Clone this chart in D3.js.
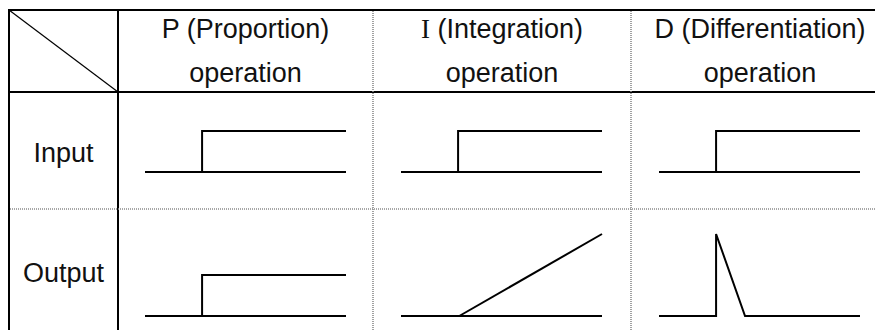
<!DOCTYPE html>
<html>
<head>
<meta charset="utf-8">
<script src="https://cdn.jsdelivr.net/npm/d3@7"></script>
<style>
  html, body { margin: 0; padding: 0; background: #fff; }
  svg { display: block; }
  text { font-family: "Liberation Sans", Arial, sans-serif; fill: #111; }
</style>
</head>
<body>
<svg id="chart" width="875" height="330"></svg>
<script>
// ---- data ----
const operations = ["P", "I", "D"];
const operationNames = ["(Proportion)", "(Integration)", "(Differentiation)"];
const operationSuffix = "operation";
const rowLabels = ["Input", "Output"];

// signal shapes, in (time 0..1, level in units) — each a list of polylines
const inputStep = [
  [[0, 0], [1, 0]],
  [[0.284, 0], [0.284, 1], [1, 1]]
];
const outputP = [
  [[0, 0], [1, 0]],
  [[0.284, 0], [0.284, 1], [1, 1]]
];
const outputI = [
  [[0, 0], [1, 0]],
  [[0.29, 0], [1, 2]]
];
const outputD = [
  [[0, 0], [0.284, 0], [0.284, 2], [0.428, 0], [1, 0]]
];
const signals = [
  [inputStep, inputStep, inputStep],
  [outputP, outputI, outputD]
];

// ---- layout ----
const svg = d3.select("#chart");
const colEdges = [9, 118, 373, 631, 889];
const rowEdges = [10, 92, 209, 331];

// table borders
const solid = svg.append("g").attr("stroke", "#000").attr("stroke-width", 2).attr("fill", "none");
solid.append("line").attr("x1", colEdges[0]).attr("x2", 875).attr("y1", rowEdges[0]).attr("y2", rowEdges[0]);
solid.append("line").attr("x1", colEdges[0]).attr("x2", 875).attr("y1", rowEdges[1]).attr("y2", rowEdges[1]);
solid.append("line").attr("x1", colEdges[0]).attr("x2", colEdges[0]).attr("y1", rowEdges[0] - 1).attr("y2", 331);
solid.append("line").attr("x1", colEdges[1]).attr("x2", colEdges[1]).attr("y1", rowEdges[0] - 1).attr("y2", 331);

// diagonal in corner
svg.append("line").attr("x1", colEdges[0]).attr("y1", rowEdges[0])
  .attr("x2", colEdges[1]).attr("y2", rowEdges[1])
  .attr("stroke", "#000").attr("stroke-width", 1.2);

// dotted inner lines
const dotted = svg.append("g").attr("stroke", "#8a8a8a").attr("stroke-width", 1.6)
  .attr("stroke-dasharray", "1,1").attr("fill", "none");
[colEdges[2], colEdges[3]].forEach(x => {
  dotted.append("line").attr("x1", x).attr("x2", x).attr("y1", rowEdges[0] + 1).attr("y2", 331);
});
dotted.append("line").attr("x1", colEdges[0] + 1).attr("x2", 875).attr("y1", rowEdges[2]).attr("y2", rowEdges[2]);

// header text
const fs = 27;
operations.forEach((op, i) => {
  const cx = (colEdges[i + 1] + colEdges[i + 2]) / 2;
  const t = svg.append("text").attr("x", cx).attr("y", 38)
    .attr("text-anchor", "middle").attr("font-size", fs);
  if (op === "I") {
    t.append("tspan").style("font-family", "'Liberation Serif', serif").text(op);
  } else {
    t.append("tspan").text(op);
  }
  t.append("tspan").text(" " + operationNames[i]);
  svg.append("text").attr("x", cx).attr("y", 82)
    .attr("text-anchor", "middle").attr("font-size", fs).text(operationSuffix);
});

// row labels
const labelY = [162, 282];
rowLabels.forEach((r, i) => {
  svg.append("text").attr("x", (colEdges[0] + colEdges[1]) / 2).attr("y", labelY[i])
    .attr("text-anchor", "middle").attr("font-size", fs).text(r);
});

// signals
const baseY = [172, 316];
const unit = 41;
const line = d3.line();
signals.forEach((row, ri) => {
  const y = d3.scaleLinear().domain([0, 1]).range([baseY[ri], baseY[ri] - unit]);
  row.forEach((sig, ci) => {
    const x0 = colEdges[ci + 1] + 27 + (ci > 0 ? 1 : 0);
    const x = d3.scaleLinear().domain([0, 1]).range([x0, x0 + 201]);
    sig.forEach(pl => {
      svg.append("path")
        .attr("d", line.x(d => x(d[0])).y(d => y(d[1]))(pl))
        .attr("fill", "none").attr("stroke", "#000").attr("stroke-width", 2)
        .attr("stroke-linejoin", "miter");
    });
  });
});
</script>
</body>
</html>
